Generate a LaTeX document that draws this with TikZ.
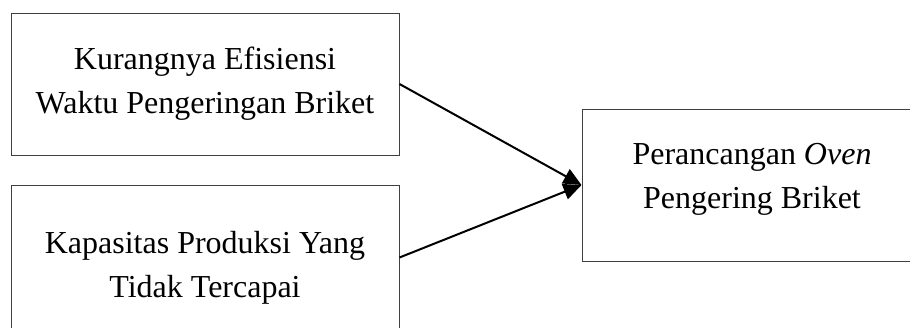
\documentclass[tikz,border=0pt]{standalone}
\usepackage{fontspec}
\setmainfont{Liberation Serif}
\usetikzlibrary{arrows.meta}
\begin{document}
\begin{tikzpicture}[x=0.5pt,y=-0.5pt,
  frame/.style={draw=black!75, line width=0.5pt, rectangle, inner sep=0pt},
  caption/.style={align=center, inner sep=0pt, font=\fontsize{16}{22}\selectfont},
  link/.style={line width=1pt, -{Triangle[length=9pt,width=8pt]}}]
  \useasboundingbox (0,0) rectangle (910,327);
  \clip (0,0) rectangle (910,327);
  % input boxes on the left
  \node[frame, minimum width=194pt, minimum height=71pt] (prob1) at (205,84) {};
  \node[caption] (prob1txt) at (205,84)
    {Kurangnya Efisiensi\\Waktu Pengeringan Briket};
  \node[frame, minimum width=194pt, minimum height=86.5pt] (prob2) at (205,271.5) {};
  \node[caption] (prob2txt) at (205,268)
    {Kapasitas Produksi Yang\\Tidak Tercapai};
  % target box on the right
  \node[frame, minimum width=170pt, minimum height=76pt] (oven) at (752,185) {};
  \node[caption] (oventxt) at (752,179)
    {Perancangan \textit{Oven}\\Pengering Briket};
  \coordinate (p2out) at ([yshift=-36.5pt]prob2.north east);
  \draw[link] (prob1.east) -- (oven.west);
  \draw[link] (p2out) -- (oven.west);
\end{tikzpicture}
\end{document}
